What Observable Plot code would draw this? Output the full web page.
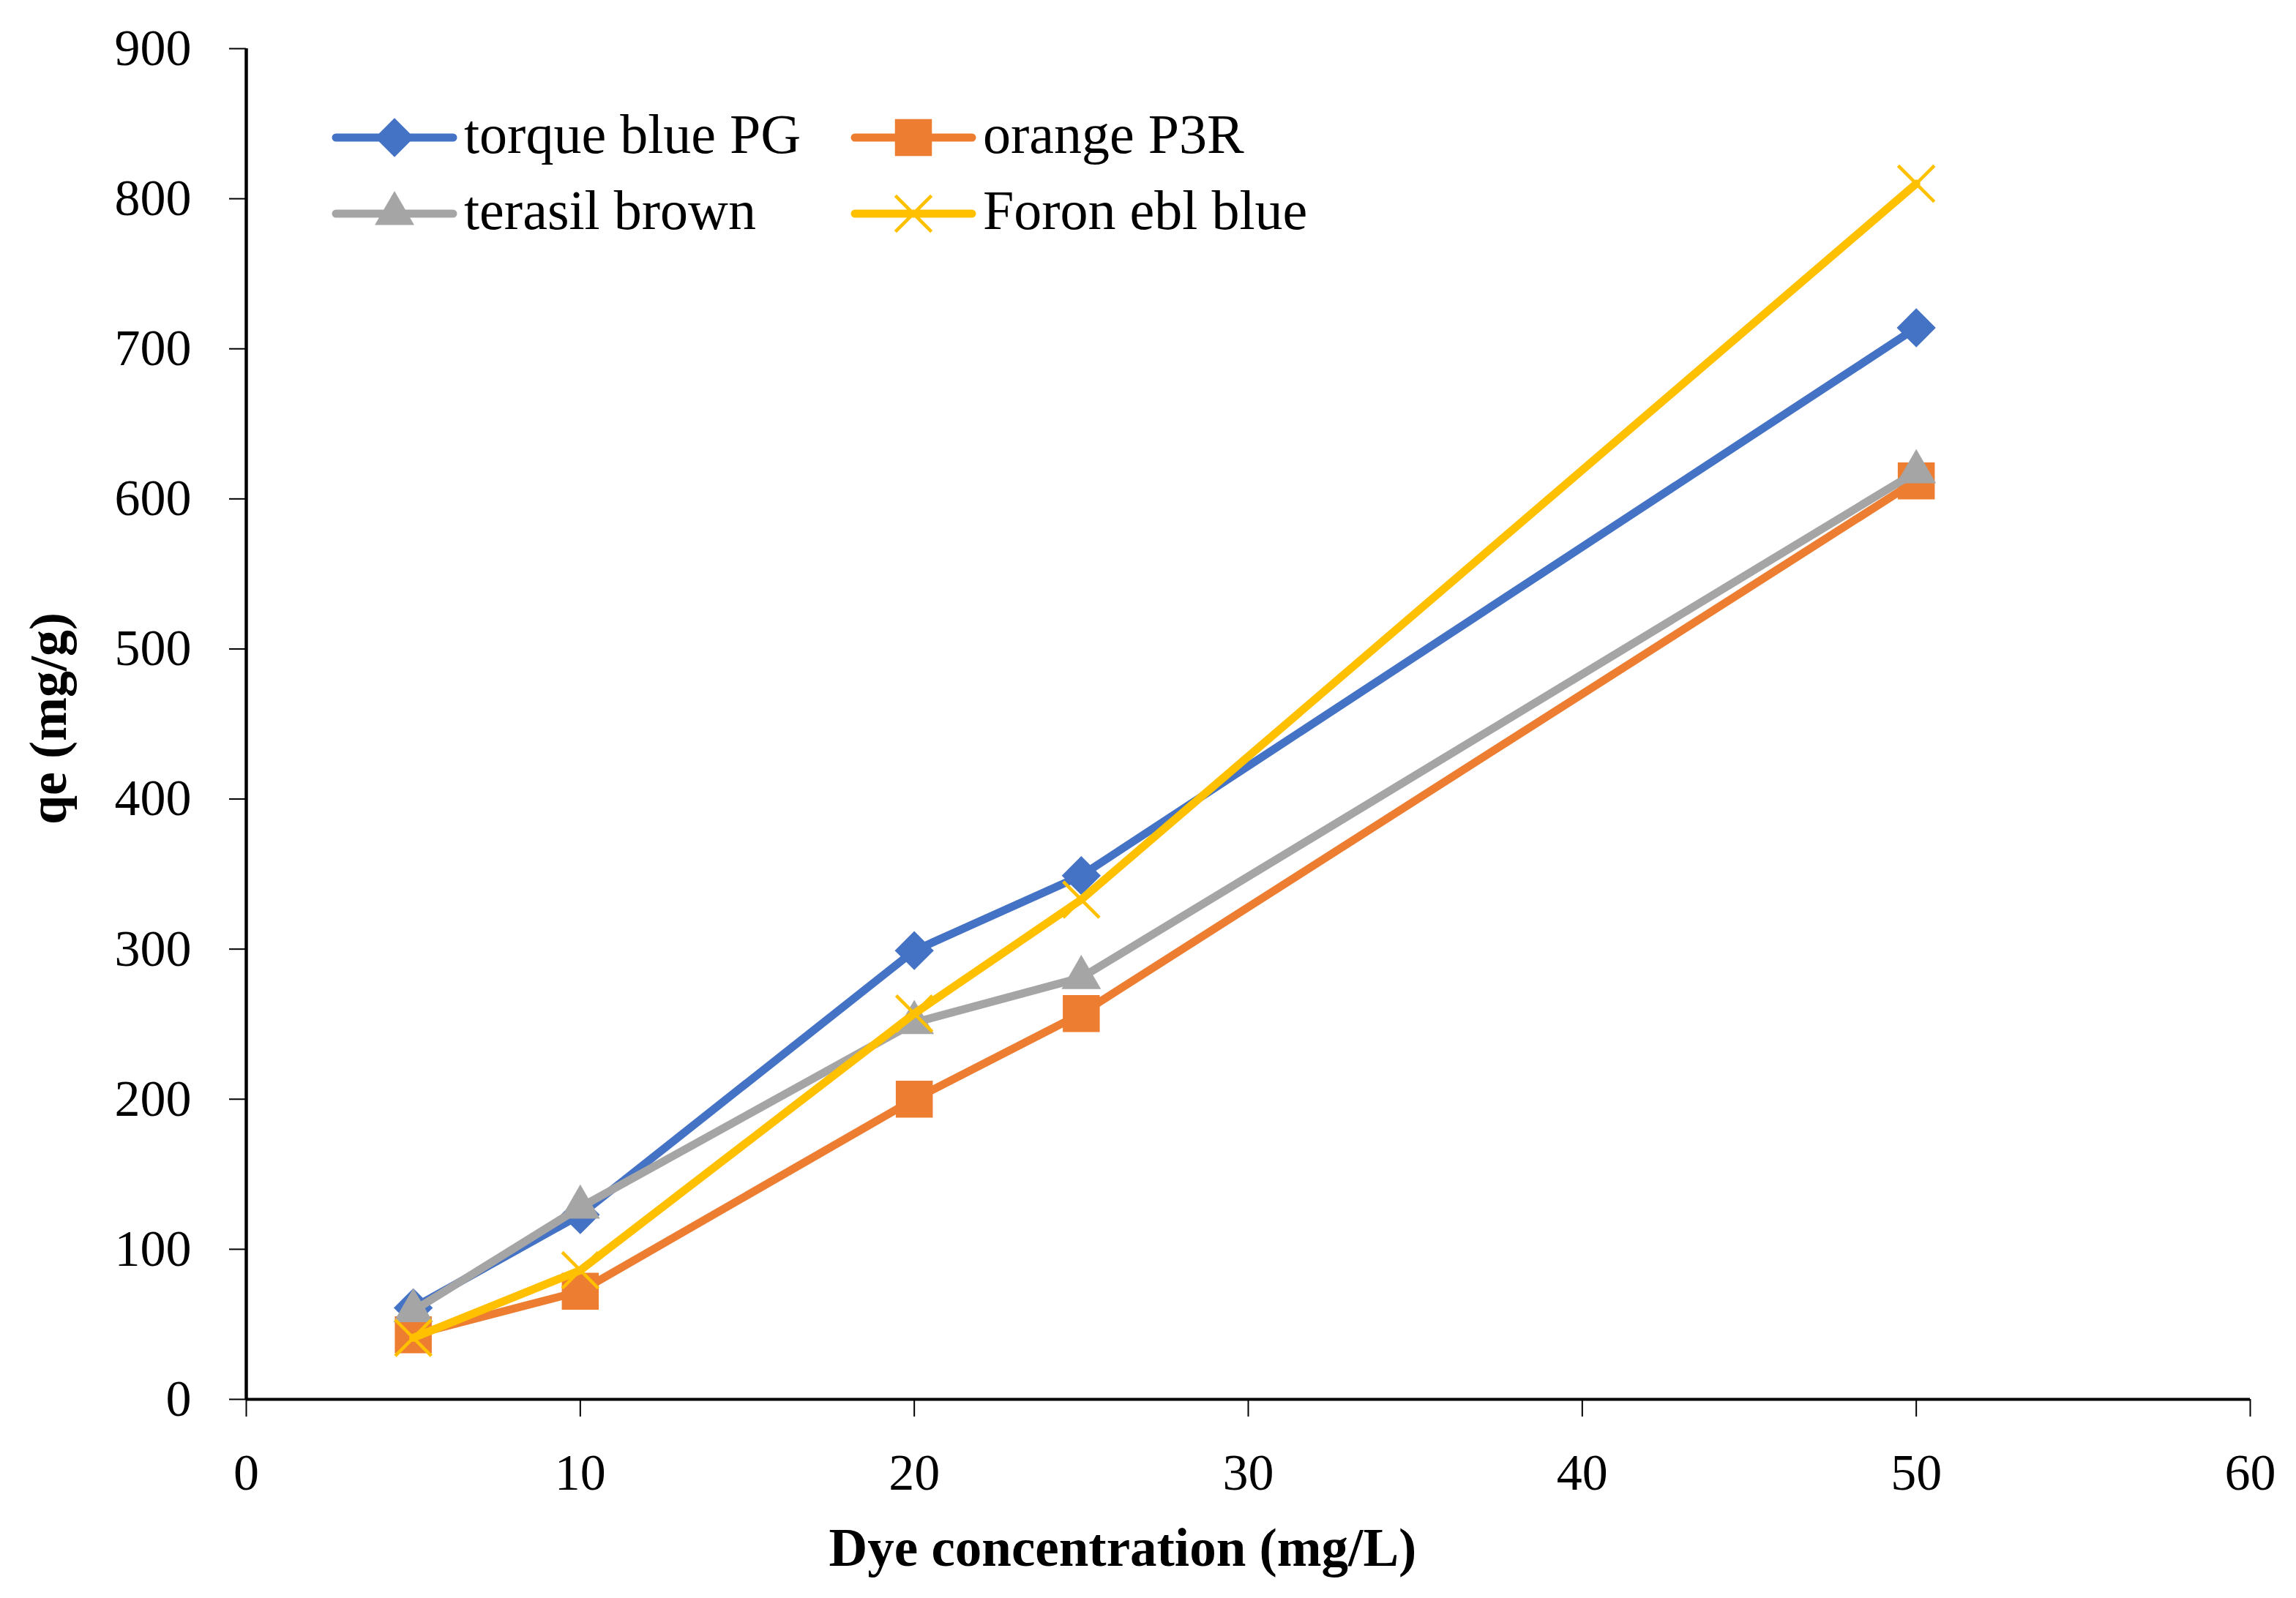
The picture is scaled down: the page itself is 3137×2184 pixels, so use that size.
<!DOCTYPE html>
<html><head><meta charset="utf-8">
<script src="https://cdn.jsdelivr.net/npm/d3@7"></script>
<script src="https://cdn.jsdelivr.net/npm/@observablehq/plot@0.6"></script>
<style>
body{margin:0;background:#fff;}
#wrap{position:relative;width:3137px;height:2184px;overflow:hidden;}
</style></head><body><div id="wrap"></div>
<script>
// ---- data ----
const concentrations = [5, 10, 20, 25, 50];
const seriesNames = ["torque blue PG", "orange P3R", "terasil brown", "Foron ebl blue"];
const torqueBluePG = [61, 123, 299, 349, 714];
const orangeP3R = [43, 72, 200, 257, 612];
const terasilBrown = [59, 128, 251, 281, 618];
const foronEblBlue = [41, 86, 257, 333, 810];
const xTicks = [0, 10, 20, 30, 40, 50, 60];
const yTicks = [0, 100, 200, 300, 400, 500, 600, 700, 800, 900];
const xTitle = "Dye concentration (mg/L)";
const yTitle = "qe (mg/g)";

// ---- styling ----
const colors = ["#4472C4", "#ED7D31", "#A5A5A5", "#FFC000"];
const symbols = ["diamond2", "square", "triangle", "times"];
const symR = [24, 28.5, 20, 22.5];
const seriesValues = [torqueBluePG, orangeP3R, terasilBrown, foronEblBlue];
const rows = seriesNames.flatMap((name, i) =>
  concentrations.map((c, j) => ({series: name, x: c, y: seriesValues[i][j]})));

const W = 3137, H = 2184;
const mL = 336, mR = 63, mT = 66, mB = 272;

const marks = [
  Plot.axisY({ticks: yTicks, tickSize: 23, tickPadding: 52, label: null, strokeWidth: 2, fontSize: 70}),
  Plot.axisX({ticks: xTicks, tickSize: 24, tickPadding: 50, label: null, strokeWidth: 2, fontSize: 70}),
  Plot.ruleX([0], {stroke: "black", strokeWidth: 4.5}),
  Plot.ruleY([0], {stroke: "black", strokeWidth: 4}),
];
seriesNames.forEach((name, i) => {
  const d = rows.filter(r => r.series === name);
  marks.push(Plot.line(d, {x: "x", y: "y", stroke: colors[i], strokeWidth: 11, strokeLinejoin: "round", strokeLinecap: "round"}));
  if (symbols[i] === "times") {
    marks.push(Plot.dot(d, {x: "x", y: "y", symbol: symbols[i], r: symR[i], stroke: colors[i], fill: "none", strokeWidth: 4.5}));
  } else {
    marks.push(Plot.dot(d, {x: "x", y: "y", symbol: symbols[i], r: symR[i], fill: colors[i], stroke: "none"}));
  }
});

const chart = Plot.plot({
  width: W, height: H,
  marginLeft: mL, marginRight: mR, marginTop: mT, marginBottom: mB,
  x: {domain: [0, 60]},
  y: {domain: [0, 900]},
  style: {fontFamily: "Liberation Serif", fontSize: "70px", color: "black", background: "white"},
  marks
});
document.getElementById("wrap").appendChild(chart);

// ---- titles & legend (layout only) ----
const svg = d3.select(chart);
svg.append("text").attr("x", 1534).attr("y", 2140).attr("text-anchor", "middle")
  .attr("font-family", "Liberation Serif").attr("font-weight", "bold").attr("font-size", 73)
  .attr("fill", "black").text(xTitle);
svg.append("text").attr("transform", "translate(90,982) rotate(-90)").attr("text-anchor", "middle")
  .attr("font-family", "Liberation Serif").attr("font-weight", "bold").attr("font-size", 72)
  .attr("fill", "black").text(yTitle);

const d3sym = {diamond2: d3.symbolDiamond2, square: d3.symbolSquare, triangle: d3.symbolTriangle, times: d3.symbolTimes};
const legendPos = [[459, 188], [1168, 188], [459, 292], [1168, 292]];
seriesNames.forEach((name, i) => {
  const [lx, ly] = legendPos[i];
  const g = svg.append("g").attr("transform", `translate(${lx},${ly})`);
  g.append("line").attr("x1", 0).attr("x2", 160).attr("y1", 0).attr("y2", 0)
    .attr("stroke", colors[i]).attr("stroke-width", 11).attr("stroke-linecap", "round");
  const p = g.append("path").attr("transform", "translate(80,0)")
    .attr("d", d3.symbol(d3sym[symbols[i]], Math.PI * symR[i] * symR[i])());
  if (symbols[i] === "times") p.attr("fill", "none").attr("stroke", colors[i]).attr("stroke-width", 4.5);
  else p.attr("fill", colors[i]);
  g.append("text").attr("x", 175).attr("y", 21).attr("text-anchor", "start")
    .attr("font-family", "Liberation Serif")
    .attr("font-size", 76).attr("fill", "black").text(name);
});
</script>
</body></html>
